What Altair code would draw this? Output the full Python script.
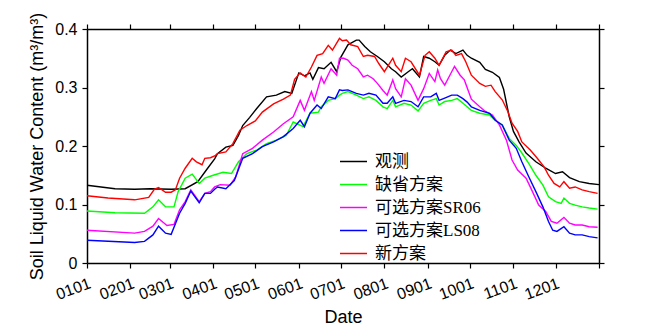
import altair as alt
import pandas as pd

series_names = ["观测", "缺省方案", "可选方案SR06", "可选方案LS08", "新方案"]
series_colors = ["#000000", "#00ff00", "#ff00ff", "#0000ff", "#ff0000"]

tick_days = [0, 31, 59, 90, 120, 151, 181, 212, 243, 273, 304, 334, 365]
tick_labels = ["0101", "0201", "0301", "0401", "0501", "0601", "0701",
               "0801", "0901", "1001", "1101", "1201", ""]
y_ticks = [0, 0.1, 0.2, 0.3, 0.4]

obs_days = [0, 20, 34, 45, 60, 70, 79, 86, 91, 93, 99, 104, 108, 111, 116, 121, 128, 135, 141, 146,
            151, 155, 159, 161, 165, 169, 174, 178, 181, 186, 192, 194, 198, 202, 207, 212, 217, 220,
            224, 229, 232, 237, 240, 244, 248, 251, 255, 259, 263, 268, 271, 274, 280, 284, 289, 294,
            297, 301, 304, 308, 313, 320, 327, 334, 339, 344, 351, 358, 365]
obs_vals = [0.133, 0.127, 0.126, 0.127, 0.126, 0.127, 0.139, 0.162, 0.178, 0.187, 0.198, 0.201,
            0.218, 0.235, 0.249, 0.264, 0.284, 0.287, 0.293, 0.290, 0.325, 0.320, 0.325, 0.314,
            0.334, 0.332, 0.343, 0.327, 0.352, 0.373, 0.381, 0.381, 0.370, 0.361, 0.353, 0.344,
            0.332, 0.327, 0.318, 0.327, 0.332, 0.318, 0.353, 0.350, 0.344, 0.338, 0.355, 0.364,
            0.358, 0.364, 0.355, 0.350, 0.343, 0.331, 0.326, 0.317, 0.297, 0.250, 0.225, 0.207,
            0.188, 0.173, 0.162, 0.153, 0.156, 0.146, 0.139, 0.136, 0.134]

def_days = [0, 20, 41, 47, 51, 56, 62, 65, 70, 75, 80, 84, 90, 97, 103, 108, 114, 121, 128, 135,
            142, 147, 154, 159, 165, 167, 172, 177, 180, 182, 186, 192, 197, 201, 206, 211, 214,
            218, 220, 226, 231, 236, 240, 245, 249, 251, 255, 260, 264, 268, 271, 274, 280, 287,
            291, 296, 301, 306, 310, 315, 320, 325, 329, 334, 338, 340, 344, 348, 353, 358, 364]
def_vals = [0.089, 0.086, 0.085, 0.096, 0.108, 0.096, 0.096, 0.122, 0.145, 0.152, 0.136, 0.145,
            0.150, 0.155, 0.153, 0.173, 0.187, 0.193, 0.204, 0.210, 0.218, 0.241, 0.233, 0.256,
            0.258, 0.267, 0.278, 0.281, 0.287, 0.290, 0.293, 0.287, 0.281, 0.284, 0.278, 0.267,
            0.264, 0.278, 0.267, 0.273, 0.270, 0.260, 0.273, 0.278, 0.281, 0.270, 0.276, 0.278,
            0.281, 0.273, 0.267, 0.261, 0.256, 0.253, 0.244, 0.236, 0.213, 0.201, 0.188, 0.170,
            0.150, 0.133, 0.113, 0.105, 0.102, 0.111, 0.102, 0.099, 0.096, 0.094, 0.092]

sr_days = [0, 34, 41, 47, 51, 57, 62, 66, 70, 74, 80, 84, 88, 91, 95, 102, 106, 111, 118, 125,
           133, 140, 147, 152, 155, 160, 162, 167, 169, 174, 178, 180, 183, 186, 189, 193, 197,
           200, 204, 207, 211, 214, 218, 220, 224, 227, 231, 236, 240, 244, 248, 250, 252, 255,
           260, 262, 266, 269, 274, 280, 284, 289, 294, 299, 303, 307, 313, 317, 322, 327, 331,
           335, 340, 344, 348, 353, 358, 364]
sr_vals = [0.056, 0.051, 0.054, 0.063, 0.076, 0.064, 0.066, 0.091, 0.105, 0.125, 0.105, 0.119,
           0.122, 0.130, 0.134, 0.133, 0.147, 0.187, 0.196, 0.210, 0.224, 0.238, 0.250, 0.278,
           0.261, 0.293, 0.278, 0.318, 0.307, 0.332, 0.321, 0.350, 0.350, 0.347, 0.338, 0.332,
           0.318, 0.321, 0.315, 0.307, 0.295, 0.287, 0.313, 0.298, 0.284, 0.315, 0.304, 0.278,
           0.298, 0.324, 0.310, 0.330, 0.315, 0.304, 0.327, 0.336, 0.321, 0.313, 0.280, 0.267,
           0.259, 0.253, 0.236, 0.210, 0.176, 0.159, 0.145, 0.125, 0.099, 0.088, 0.071, 0.068,
           0.078, 0.068, 0.065, 0.065, 0.062, 0.061]

ls_days = [0, 34, 41, 47, 51, 56, 60, 66, 70, 74, 80, 84, 88, 91, 93, 99, 105, 111, 118, 125,
           133, 140, 147, 152, 155, 159, 164, 167, 172, 177, 180, 182, 186, 192, 197, 201, 206,
           211, 214, 218, 220, 226, 231, 236, 240, 245, 249, 251, 255, 260, 264, 268, 271, 274,
           280, 287, 291, 296, 301, 306, 310, 315, 320, 325, 329, 332, 335, 340, 344, 348, 353,
           358, 364]
ls_vals = [0.039, 0.035, 0.037, 0.048, 0.063, 0.051, 0.049, 0.085, 0.102, 0.123, 0.103, 0.119,
           0.119, 0.126, 0.130, 0.127, 0.141, 0.179, 0.187, 0.199, 0.207, 0.216, 0.230, 0.244,
           0.233, 0.256, 0.270, 0.264, 0.284, 0.281, 0.296, 0.295, 0.296, 0.290, 0.287, 0.290,
           0.287, 0.273, 0.273, 0.284, 0.273, 0.278, 0.276, 0.267, 0.284, 0.284, 0.290, 0.278,
           0.282, 0.287, 0.287, 0.281, 0.275, 0.267, 0.261, 0.256, 0.244, 0.236, 0.210, 0.196,
           0.173, 0.147, 0.122, 0.096, 0.071, 0.056, 0.054, 0.062, 0.051, 0.048, 0.048, 0.045,
           0.043]

new_days = [0, 15, 34, 44, 48, 51, 56, 60, 63, 66, 70, 75, 78, 82, 84, 88, 91, 93, 99, 104, 109,
            114, 120, 125, 133, 140, 145, 148, 152, 156, 160, 164, 168, 172, 175, 180, 182, 185,
            188, 193, 197, 200, 205, 208, 212, 218, 220, 224, 227, 231, 237, 241, 244, 248, 251,
            256, 260, 263, 267, 270, 274, 280, 284, 288, 291, 296, 300, 303, 307, 310, 316, 321,
            326, 329, 333, 337, 340, 344, 348, 353, 358, 364]
new_vals = [0.115, 0.111, 0.108, 0.112, 0.126, 0.129, 0.121, 0.121, 0.125, 0.145, 0.162, 0.179,
            0.173, 0.168, 0.179, 0.180, 0.183, 0.187, 0.190, 0.204, 0.227, 0.235, 0.243, 0.258,
            0.272, 0.280, 0.287, 0.314, 0.325, 0.318, 0.335, 0.355, 0.358, 0.372, 0.364, 0.384,
            0.380, 0.381, 0.373, 0.370, 0.353, 0.355, 0.353, 0.341, 0.327, 0.350, 0.338, 0.327,
            0.350, 0.344, 0.321, 0.355, 0.361, 0.350, 0.338, 0.361, 0.364, 0.355, 0.358, 0.344,
            0.321, 0.307, 0.302, 0.304, 0.293, 0.279, 0.259, 0.239, 0.225, 0.207, 0.193, 0.179,
            0.164, 0.150, 0.136, 0.130, 0.139, 0.128, 0.130, 0.125, 0.122, 0.119]

all_days = [obs_days, def_days, sr_days, ls_days, new_days]
all_vals = [obs_vals, def_vals, sr_vals, ls_vals, new_vals]

rows = []
for order, (name, ds, vs) in enumerate(zip(series_names, all_days, all_vals)):
    assert len(ds) == len(vs), name
    for d, v in zip(ds, vs):
        rows.append({"series": name, "order": order, "day": d, "value": v})
df = pd.DataFrame(rows)

label_expr = "[" + ",".join("'%s'" % s for s in tick_labels) + "][indexof([" + \
    ",".join(str(d) for d in tick_days) + "], datum.value)]"

x_scale = alt.Scale(domain=[0, 365], nice=False, zero=False)
y_scale = alt.Scale(domain=[0, 0.4], nice=False)

axis_common = dict(grid=False, domainColor="black", domainWidth=1.5, tickColor="black",
                   tickWidth=1.2, tickSize=5, labelColor="black", titleColor="black",
                   labelFont="Liberation Sans", titleFont="Liberation Sans",
                   labelFontSize=16, titleFontSize=18, titleFontWeight="normal")

lines = alt.Chart(df).mark_line(strokeWidth=1.4).encode(
    x=alt.X("day:Q", scale=x_scale,
            axis=alt.Axis(values=tick_days, labelExpr=label_expr, labelAngle=340,
                          labelAlign="right", labelBaseline="top", labelPadding=7,
                          title="Date", titlePadding=6, **axis_common)),
    y=alt.Y("value:Q", scale=y_scale,
            axis=alt.Axis(values=y_ticks, format=".1~f", labelPadding=5,
                          title="Soil Liquid Water Content (m³/m³)", titlePadding=8,
                          **axis_common)),
    color=alt.Color("series:N",
                    scale=alt.Scale(domain=series_names, range=series_colors),
                    legend=alt.Legend(title=None, orient="none", legendX=252, legendY=118,
                                      symbolType="stroke", symbolSize=729,
                                      symbolStrokeWidth=1.5, labelFontSize=17,
                                      labelFont="Liberation Serif, Noto Sans CJK SC",
                                      labelColor="black", labelOffset=7, rowPadding=-6,
                                      padding=0)),
    order=alt.Order("order:Q"),
)

frame = alt.Chart(df).mark_line(strokeOpacity=0).encode(
    x=alt.X("day:Q", scale=x_scale,
            axis=alt.Axis(orient="top", values=tick_days, labels=False, title=None,
                          **axis_common)),
    y=alt.Y("value:Q", scale=y_scale,
            axis=alt.Axis(orient="right", values=y_ticks, labels=False, title=None,
                          **axis_common)),
    detail="series:N",
)

chart = alt.layer(frame, lines).resolve_axis(x="independent", y="independent").properties(
    width=512, height=234,
    autosize=alt.AutoSizeParams(type="none"),
    padding={"left": 79, "top": 21, "right": 50, "bottom": 67},
).configure_view(stroke=None).configure(background="white")

chart.save("out.html", embed_options={"renderer": "svg", "actions": False})
